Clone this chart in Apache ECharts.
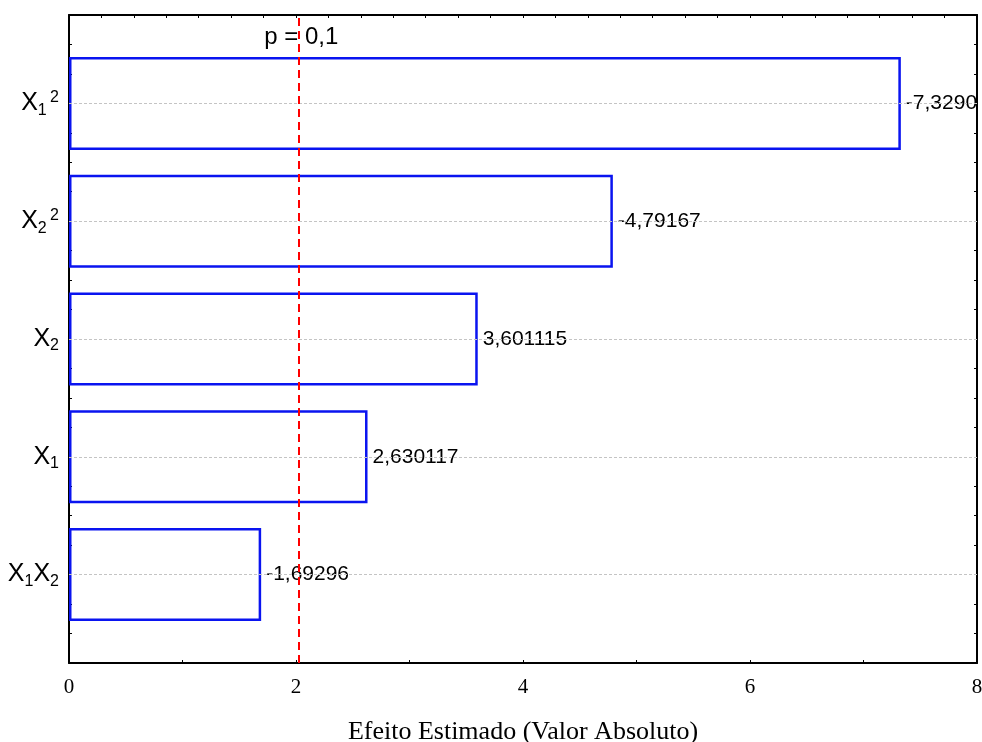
<!DOCTYPE html>
<html>
<head>
<meta charset="utf-8">
<script src="https://cdn.jsdelivr.net/npm/echarts@6/dist/echarts.min.js"></script>
<style>
  html, body { margin: 0; padding: 0; background: #fff; }
  #chart { width: 982px; height: 742px; }
</style>
</head>
<body>
<div id="chart"></div>
<script>
// Pareto chart of standardized effects, bottom to top
const factors = ['X1X2', 'X1', 'X2', 'X2^2', 'X1^2'];
const effectLabels = ['-1,69296', '2,630117', '3,601115', '-4,79167', '-7,3290'];
const effects = effectLabels.map(s => parseFloat(s.replace(',', '.')));
const pCritical = 2.015;
const pLabel = 'p = 0,1';
const xTicks = [0, 2, 4, 6, 8];
const xTitle = 'Efeito Estimado (Valor Absoluto)';

// X1^2 -> rich text with subscript and superscript
function richFactor(name) {
  let out = '';
  const re = /X(\d)(\^(\d))?/g;
  let m;
  while ((m = re.exec(name)) !== null) {
    out += '{x|X}{sub|' + m[1] + '}';
    if (m[3]) out += '{sp| }{sup|' + m[3] + '}';
  }
  return out;
}

const frame = { left: 69, right: 5, top: 15, bottom: 79 };
const pad = 29.6; // space between the frame and the outer bars' bands

const blackLine = { show: true, onZero: false, lineStyle: { color: '#000', width: 2 } };
const innerTick = { show: true, inside: true, length: 3, lineStyle: { color: '#000' } };

const chart = echarts.init(document.getElementById('chart'));
chart.setOption({
  animation: false,
  backgroundColor: '#ffffff',
  grid: [
    { left: frame.left, right: frame.right, top: frame.top, bottom: frame.bottom,
      containLabel: false, outerBoundsMode: 'none' },
    { left: frame.left, right: frame.right, top: frame.top + pad, bottom: frame.bottom + pad,
      containLabel: false, outerBoundsMode: 'none' }
  ],
  xAxis: [
    {
      gridIndex: 0, type: 'value', min: 0, max: 8, interval: 1, position: 'bottom',
      axisLine: blackLine, axisTick: innerTick,
      axisLabel: {
        margin: 14, color: '#000', fontFamily: 'Liberation Serif', fontSize: 21,
        formatter: v => (xTicks.indexOf(v) >= 0 ? String(v) : '')
      },
      splitLine: { show: false },
      name: xTitle, nameLocation: 'middle', nameGap: 56,
      nameTextStyle: { color: '#000', fontFamily: 'Liberation Serif', fontSize: 26 }
    },
    {
      gridIndex: 0, type: 'value', min: 0, max: 28, interval: 1, position: 'top',
      axisLine: blackLine, axisTick: innerTick,
      axisLabel: { show: false }, splitLine: { show: false }
    },
    {
      gridIndex: 1, type: 'value', min: 0, max: 8, show: false,
      splitLine: { show: false }
    }
  ],
  yAxis: [
    {
      gridIndex: 0, type: 'value', min: 0.25, max: 5.75, interval: 0.25, position: 'left',
      axisLine: blackLine, axisTick: innerTick,
      axisLabel: { show: false }, splitLine: { show: false }
    },
    {
      gridIndex: 0, type: 'value', min: 0.25, max: 5.75, interval: 0.25, position: 'right',
      axisLine: blackLine, axisTick: innerTick,
      axisLabel: { show: false }, splitLine: { show: false }
    },
    {
      gridIndex: 1, type: 'category', data: factors, position: 'left',
      axisLine: { show: false }, axisTick: { show: false }, splitLine: { show: false },
      axisLabel: {
        margin: 10, color: '#000', fontFamily: 'Liberation Sans',
        formatter: v => richFactor(v),
        rich: {
          x: { fontSize: 25, fontFamily: 'Liberation Sans', color: '#000', lineHeight: 30 },
          sub: { fontSize: 16, fontFamily: 'Liberation Sans', color: '#000', padding: [14, 0, 0, 0], lineHeight: 30 },
          sp: { fontSize: 12, lineHeight: 30 },
          sup: { fontSize: 16, fontFamily: 'Liberation Sans', color: '#000', padding: [0, 0, 12, 0], lineHeight: 30 }
        }
      }
    }
  ],
  series: [
    {
      type: 'bar',
      xAxisIndex: 2, yAxisIndex: 2,
      data: effects.map(v => Math.abs(v)),
      barWidth: 93,
      itemStyle: { color: 'rgba(255,255,255,0)', borderColor: '#0a14f0', borderWidth: 2.5 },
      label: {
        show: true, position: 'right', distance: 5,
        color: '#000', fontFamily: 'Liberation Sans', fontSize: 21,
        formatter: p => effectLabels[p.dataIndex]
      },
      markLine: {
        silent: true, symbol: 'none', animation: false,
        label: { show: false },
        lineStyle: { color: '#c4c4c4', type: [3, 2], width: 1 },
        data: factors.map(f => ({ yAxis: f }))
      }
    },
    {
      // critical t value line across the whole frame
      type: 'line',
      xAxisIndex: 0, yAxisIndex: 0,
      data: [],
      markLine: {
        silent: true, symbol: 'none', animation: false,
        data: [{
          xAxis: pCritical,
          lineStyle: { color: '#ff0000', type: [8, 5], width: 2 },
          label: {
            show: true, position: 'end', formatter: pLabel,
            color: '#000', fontFamily: 'Liberation Sans', fontSize: 24,
            offset: [3, 39]
          }
        }]
      }
    }
  ]
});
</script>
</body>
</html>
